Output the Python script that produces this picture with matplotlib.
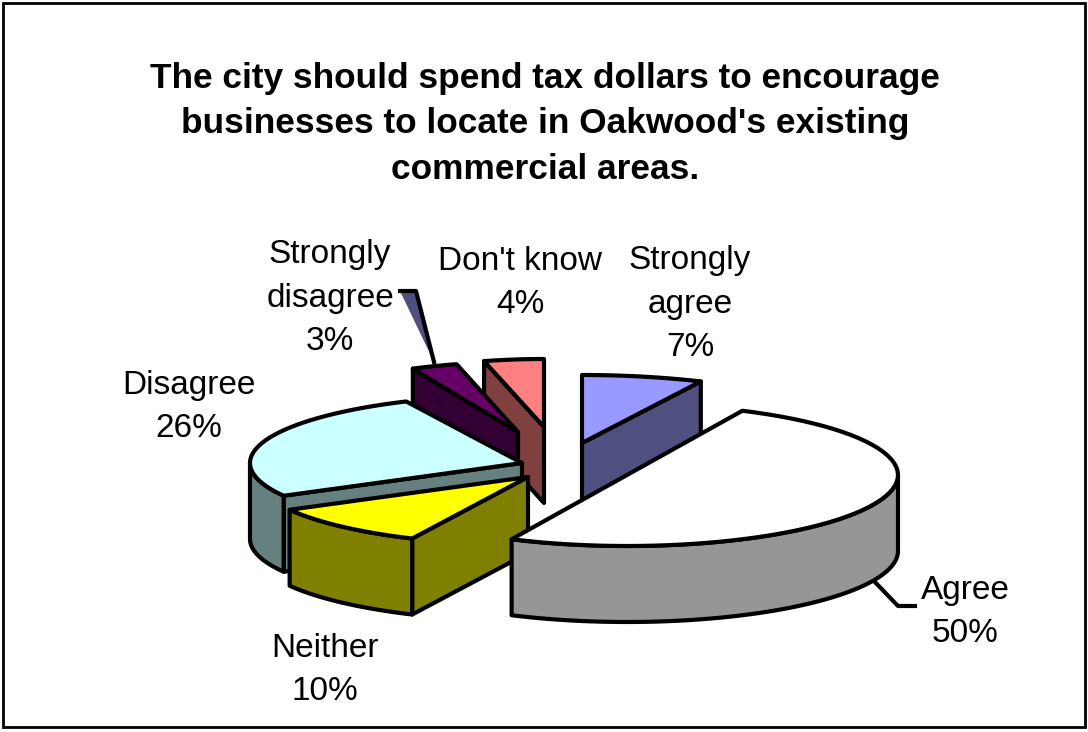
import numpy as np
import matplotlib
matplotlib.use('Agg')
import matplotlib.pyplot as plt
from matplotlib.patches import Polygon, Rectangle

plt.rcParams['font.family'] = ['Liberation Sans', 'DejaVu Sans']

title = "The city should spend tax dollars to encourage\nbusinesses to locate in Oakwood's existing\ncommercial areas."

# clockwise from 12 o'clock
categories = ['Strongly\nagree', 'Agree', 'Neither', 'Disagree', 'Strongly\ndisagree', "Don't know"]
values = [7, 50, 10, 26, 3, 4]

top_colors = ['#9999FF', '#FFFFFF', '#FFFF00', '#CCFFFF', '#660066', '#FF8080']
side_colors = ['#4F4F80', '#969696', '#808000', '#668080', '#330033', '#804040']

# where each exploded slice sits on the page (pixels)
centers = [(582, 443), (627, 475), (528, 477), (522, 463), (518, 432), (544, 427)]
radii_x = [279, 271, 272, 272, 247, 241]
radii_y = [68, 71, 68, 68, 70, 68]
depth = 76
draw_order = [0, 5, 4, 3, 2, 1]  # back to front

label_pos = [(690, 304), (965, 612), (325, 670), (189, 407), (330, 298), (520, 283)]

LW = 3


def rim(cx, cy, rx, ry, a, b, n=60):
    t = np.radians(np.linspace(a, b, n))
    return np.column_stack([cx + rx * np.sin(t), cy - ry * np.cos(t)])


def face(ax, pts, color, z):
    ax.add_patch(Polygon(pts, closed=True, facecolor=color, edgecolor='black',
                         linewidth=LW, joinstyle='round', zorder=z))


def draw_slice(ax, i, start, end, z):
    cx, cy = centers[i]
    rx, ry = radii_x[i], radii_y[i]
    down = np.array([0, depth])
    tip = np.array([cx, cy], dtype=float)

    # flat cut faces, only those turned to the viewer
    if np.sin(np.radians(start)) < -1e-6:
        p = rim(cx, cy, rx, ry, start, start, 1)[0]
        face(ax, [p, tip, tip + down, p + down], side_colors[i], z)
    if np.sin(np.radians(end)) > 1e-6:
        p = rim(cx, cy, rx, ry, end, end, 1)[0]
        face(ax, [p, tip, tip + down, p + down], side_colors[i], z)

    # curved outer wall, front half only
    a, b = max(start, 90), min(end, 270)
    if b > a:
        r = rim(cx, cy, rx, ry, a, b)
        face(ax, np.vstack([r, (r + down)[::-1]]), side_colors[i], z + 0.1)

    r = rim(cx, cy, rx, ry, start, end)
    face(ax, np.vstack([tip, r]), top_colors[i], z + 0.2)


fig = plt.figure(figsize=(10.88, 7.32), dpi=100)
ax = fig.add_axes([0, 0, 1, 1])
ax.set_xlim(0, 1088)
ax.set_ylim(732, 0)
ax.axis('off')

ax.add_patch(Rectangle((3, 3), 1082, 724, facecolor='white', edgecolor='black', linewidth=2))

edges = np.cumsum([0] + values) * 3.6
for z, i in enumerate(draw_order):
    draw_slice(ax, i, edges[i], edges[i + 1], 2 + z)

# leader lines
ax.add_patch(Polygon([(400, 291), (416, 291), (434, 362)], closed=True, facecolor='#4F4F80',
                     edgecolor='none', zorder=1))
ax.plot([400, 416, 434], [291, 291, 362], color='black', lw=LW, zorder=1.5)
ax.plot([873, 898, 915], [580, 606, 606], color='black', lw=LW, zorder=1.5)

ax.text(545, 124, title, ha='center', va='center', fontsize=25.4, fontweight='bold',
        linespacing=1.48, color='black')

for name, val, pos in zip(categories, values, label_pos):
    ax.text(pos[0], pos[1], f"{name}\n{val}%", ha='center', va='center', fontsize=24,
            linespacing=1.54, color='black', zorder=20)

fig.savefig('out.png', dpi=100)
